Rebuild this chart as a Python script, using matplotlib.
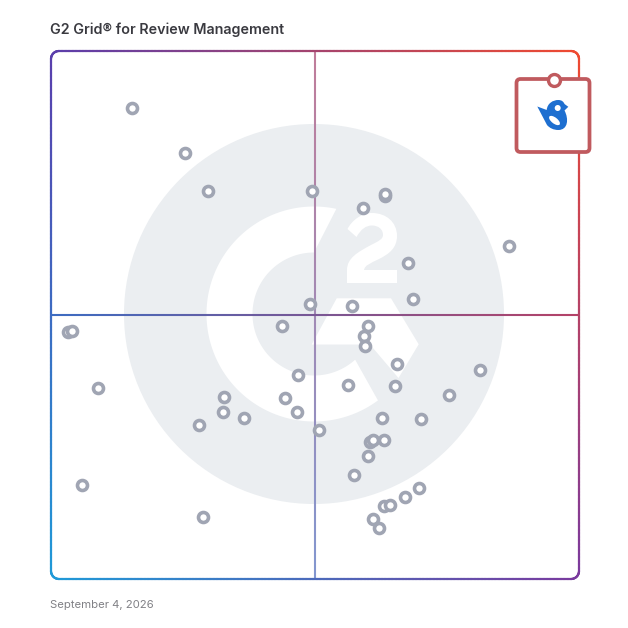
import numpy as np
import matplotlib
matplotlib.use("Agg")
import matplotlib.pyplot as plt
from matplotlib.collections import LineCollection
from matplotlib.patches import Circle, FancyBboxPatch, PathPatch, Polygon, Ellipse
from matplotlib.path import Path

TITLE = "G2 Grid® for Review Management"
DATE = "September 4, 2026"

# Market presence (x) and satisfaction (y), 0-100
presence = [15.44, 25.38, 29.83, 49.53, 63.26, 63.26, 59.09, 86.74, 67.71, 68.65,
            49.05, 57.01, 43.84, 60.04, 59.38, 59.47, 65.63, 81.25, 46.88, 56.34,
            65.25, 75.38, 32.86, 44.32, 32.58, 46.59, 36.65, 62.69, 70.08, 28.03,
            50.76, 60.51, 60.98, 63.07, 60.04, 57.48, 69.70, 67.14, 63.07, 64.30,
            60.98, 62.12, 28.88, 5.97, 8.90, 3.31, 4.07]
satisfaction = [89.2, 80.59, 73.39, 73.48, 72.54, 72.92, 70.26, 63.07, 59.75, 53.03,
                51.99, 51.70, 47.92, 47.82, 46.02, 44.03, 40.63, 39.58, 38.64, 36.65,
                36.55, 34.85, 34.38, 34.28, 31.53, 31.63, 30.40, 30.40, 30.21, 29.07,
                28.22, 25.95, 26.23, 26.23, 23.30, 19.60, 17.23, 15.53, 13.83, 13.92,
                11.27, 9.66, 11.74, 17.80, 36.17, 46.69, 46.88]
highlight_presence = [95.36]
highlight_satisfaction = [94.41]

GREY = "#a0a5b3"
BADGE = "#c05a5e"
BLUE = "#1e6fd0"
WATERMARK = "#ebeef1"
CORNERS = {"tl": "#5a3eac", "tr": "#f04a30", "bl": "#1f9ad8", "br": "#7a3a9e"}

plt.rcParams["font.family"] = ["Inter", "DejaVu Sans"]
S = 628
fig = plt.figure(figsize=(S / 100, S / 100), dpi=100, facecolor="white")

# pixel-space layer for frame, watermark and badge
bg = fig.add_axes([0, 0, 1, 1], zorder=0)
bg.set_xlim(0, S); bg.set_ylim(S, 0); bg.axis("off")
# data layer
L, R, T, B = 51.0, 579.0, 51.0, 579.0
DX, DY = -0.2, -0.3
ax = fig.add_axes([(L + DX) / S, 1 - (B + DY) / S, (R - L) / S, (B - T) / S], zorder=1)
ax.set_xlim(0, 100); ax.set_ylim(0, 100); ax.axis("off"); ax.patch.set_alpha(0)
top = fig.add_axes([0, 0, 1, 1], zorder=2)
top.set_xlim(0, S); top.set_ylim(S, 0); top.axis("off"); top.patch.set_alpha(0)


def rgb(h):
    return np.array(matplotlib.colors.to_rgb(h))


def grad(x, y):
    u = np.clip((x - L) / (R - L), 0, 1)[:, None]
    v = np.clip((y - T) / (B - T), 0, 1)[:, None]
    t = rgb(CORNERS["tl"]) * (1 - u) + rgb(CORNERS["tr"]) * u
    b = rgb(CORNERS["bl"]) * (1 - u) + rgb(CORNERS["br"]) * u
    return t * (1 - v) + b * v


def grad_line(xs, ys, lw, blend=0.0, z=2, cap="butt"):
    xs, ys = np.asarray(xs, float), np.asarray(ys, float)
    pts = np.column_stack([xs, ys])
    segs = np.stack([pts[:-1], pts[1:]], axis=1)
    mx, my = (xs[:-1] + xs[1:]) / 2, (ys[:-1] + ys[1:]) / 2
    c = grad(mx, my) * (1 - blend) + blend
    lc = LineCollection(segs, colors=c, linewidths=lw, zorder=z, capstyle=cap)
    bg.add_collection(lc)


# watermark
cx, cy = 314.0, 314.0
bg.add_patch(Circle((cx, cy), 190, fc=WATERMARK, ec="none", zorder=1))
a1 = np.radians(np.linspace(78, 306.5, 200))
a2 = np.radians(np.linspace(312, 90, 200))
ring = np.vstack([
    np.column_stack([cx + 107.5 * np.cos(a1), cy - 107.5 * np.sin(a1)]),
    np.column_stack([cx + 61.5 * np.cos(a2), cy - 61.5 * np.sin(a2)]),
])
bg.add_patch(Polygon(ring, closed=True, fc="white", ec="none", zorder=1.1))
bg.add_patch(Polygon([(336.7, 298.3), (391, 298.3), (418.7, 344.3), (398.5, 378),
                      (370, 344.5), (311.7, 344.5)], closed=True, fc="white", ec="none", zorder=1.1))
# the superscript 2 of the logo
two = Path([(347.5, 229), (352, 220), (362, 213), (372, 213), (386, 213), (397, 222), (397, 236),
            (397, 248), (389, 254), (379, 259), (370, 263.5), (365, 265), (364, 270),
            (397, 270), (397, 283), (347, 283), (347, 270), (347, 258), (358, 252), (371, 245),
            (379, 241), (383, 239), (383, 235), (383, 229), (378, 225.5), (372, 225.5), (366, 225.5), (361, 229), (356.5, 237),
            (347.5, 229)],
           [Path.MOVETO, Path.CURVE4, Path.CURVE4, Path.CURVE4, Path.CURVE4, Path.CURVE4, Path.CURVE4,
            Path.CURVE4, Path.CURVE4, Path.CURVE4, Path.CURVE4, Path.CURVE4, Path.CURVE4,
            Path.LINETO, Path.LINETO, Path.LINETO, Path.LINETO, Path.CURVE4, Path.CURVE4, Path.CURVE4,
            Path.CURVE4, Path.CURVE4, Path.CURVE4, Path.CURVE4, Path.CURVE4, Path.CURVE4, Path.CURVE4, Path.CURVE4, Path.CURVE4,
            Path.CLOSEPOLY])
bg.add_patch(PathPatch(two, fc="white", ec="none", zorder=1.1))

# quadrant lines
mx_, my_ = (L + R) / 2, (T + B) / 2
ys = np.linspace(T, B, 200)
grad_line(np.full_like(ys, mx_), ys, 1.5, blend=0.3, z=2)
xs = np.linspace(L, R, 200)
grad_line(xs, np.full_like(xs, my_), 1.5, z=2.1)

# rounded frame
r = 8.0
t = np.linspace(0, np.pi / 2, 24)
fx = np.concatenate([np.linspace(L + r, R - r, 150), R - r + r * np.sin(t), np.full(150, R),
                     R - r + r * np.cos(t), np.linspace(R - r, L + r, 150), L + r - r * np.sin(t),
                     np.full(150, L), L + r - r * np.cos(t)])
fy = np.concatenate([np.full(150, T), T + r - r * np.cos(t), np.linspace(T + r, B - r, 150),
                     B - r + r * np.sin(t), np.full(150, B), B - r + r * np.cos(t),
                     np.linspace(B - r, T + r, 150), T + r - r * np.sin(t)])
grad_line(fx, fy, 1.6, z=3, cap="round")

# products
ax.plot(presence, satisfaction, ls="none", marker="o", ms=7.2, mfc="white", mec=GREY, mew=2.6,
        clip_on=False, zorder=4)

# highlighted product badge
top.add_patch(FancyBboxPatch((516.5, 79), 73, 73, boxstyle="round,pad=0,rounding_size=4",
                             fc="white", ec=BADGE, lw=2.7, zorder=5))
bird_xy = [(537.3, 106.5), (546.7, 110.0), (547.3, 103.3), (553, 100), (558.3, 100),
           (561.5, 100), (563.5, 101.5), (564.5, 104), (568.3, 106.8), (564.5, 110.5),
           (569, 119), (568, 130), (558.3, 130), (553.5, 130), (549.5, 128), (547.0, 125),
           (537.3, 106.5), (537.3, 106.5)]
bird_codes = [Path.MOVETO, Path.LINETO, Path.CURVE4, Path.CURVE4, Path.CURVE4,
              Path.CURVE4, Path.CURVE4, Path.CURVE4, Path.LINETO, Path.LINETO,
              Path.CURVE4, Path.CURVE4, Path.CURVE4, Path.CURVE4, Path.CURVE4, Path.CURVE4,
              Path.LINETO, Path.CLOSEPOLY]
top.add_patch(PathPatch(Path(bird_xy, bird_codes), fc=BLUE, ec="none", zorder=6))
top.add_patch(Circle((557.7, 108), 3.0, fc="white", ec="none", zorder=7))
top.add_patch(Ellipse((554.5, 120.5), 13, 6, angle=38, fc="white", ec="none", zorder=7))
top.plot(highlight_presence, highlight_satisfaction, transform=ax.transData, ls="none", marker="o",
         ms=8.6, mfc="white", mec=BADGE, mew=2.4, clip_on=False, zorder=8)

# texts
fig.text(50 / S, 1 - 30 / S, TITLE, fontsize=10.3, fontweight="semibold", color="#3a3a40", va="center", ha="left")
fig.text(50 / S, 1 - 605 / S, DATE, fontsize=8.15, color="#808085", va="center", ha="left")

fig.savefig("out.png", dpi=100, facecolor="white")
